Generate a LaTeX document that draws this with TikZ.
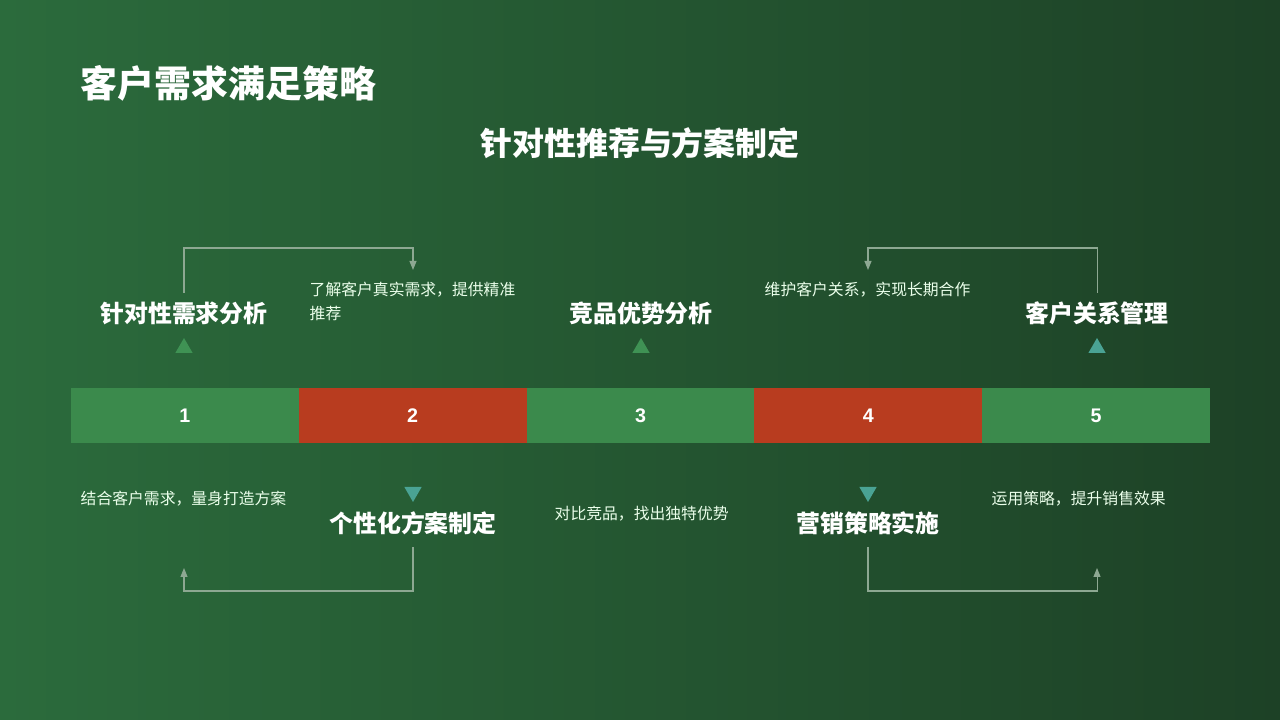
\documentclass[tikz,border=0pt]{standalone}
\usepackage{fontspec}
\setmainfont{Liberation Sans}
\newfontfamily\cjk{Noto Sans CJK SC}
\usetikzlibrary{arrows.meta,shapes.geometric}
\definecolor{bgLeft}{HTML}{2B6B3C}
\definecolor{bgRight}{HTML}{1D4126}
\definecolor{barGreen}{HTML}{3B8A4C}
\definecolor{barRed}{HTML}{B83C1F}
\definecolor{triGreen}{HTML}{3F9254}
\definecolor{triTeal}{HTML}{4AA394}
\definecolor{linkGrey}{HTML}{8DA892}
\tikzset{
	seg/.style={minimum width=2.28cm, minimum height=0.55cm, inner sep=0, text=white, font=\bfseries\fontsize{5.6}{6}\selectfont},
	steptitle/.style={text=white, inner sep=0, font=\cjk\bfseries\fontsize{6.8}{8}\selectfont},
	desc/.style={text=white!92!green, inner sep=0, anchor=west, align=left, font=\cjk\fontsize{4.5}{6.8}\selectfont},
	tri/.style={regular polygon, regular polygon sides=3, minimum size=0.2cm, inner sep=0},
	link/.style={draw=linkGrey, line width=0.3pt, -{Triangle[length=0.9mm,width=0.7mm]}}
}

\begin{document}
\begin{tikzpicture}
	%background
	\shade[left color=bgLeft, right color=bgRight] (0,0) rectangle (12.8,7.2);

	%titles
	\node[anchor=west, text=white, inner sep=0, font=\cjk\bfseries\fontsize{10.5}{12}\selectfont] (title) at (0.80,6.37) {客户需求满足策略};
	\node[text=white, inner sep=0, font=\cjk\bfseries\fontsize{9.1}{11}\selectfont] (subtitle) at (6.40,5.77) {针对性推荐与方案制定};

	%bar
	\foreach \i/\c in {1/barGreen, 2/barRed, 3/barGreen, 4/barRed, 5/barGreen}
		\node[seg, fill=\c] (b\i) at ({0.71+2.278*(\i-0.5)},3.04) {\i};

	%step titles
	\node[steptitle] (t1) at (1.84,4.07) {针对性需求分析};
	\node[steptitle] (t2) at (4.13,1.97) {个性化方案制定};
	\node[steptitle] (t3) at (6.41,4.07) {竞品优势分析};
	\node[steptitle] (t4) at (8.68,1.97) {营销策略实施};
	\node[steptitle] (t5) at (10.97,4.07) {客户关系管理};

	%markers
	\node[tri, fill=triGreen] (p1) at (1.84,3.72) {};
	\node[tri, fill=triTeal, shape border rotate=180] (p2) at (4.13,2.28) {};
	\node[tri, fill=triGreen] (p3) at (6.41,3.72) {};
	\node[tri, fill=triTeal, shape border rotate=180] (p4) at (8.68,2.28) {};
	\node[tri, fill=triTeal] (p5) at (10.97,3.72) {};

	%descriptions
	\node[desc] (d1) at (0.80,2.21) {结合客户需求，量身打造方案};
	\node[desc] (d2) at (3.09,4.19) {了解客户真实需求，提供精准\\推荐};
	\node[desc] (d3) at (5.54,2.06) {对比竞品，找出独特优势};
	\node[desc] (d4) at (7.64,4.30) {维护客户关系，实现长期合作};
	\node[desc] (d5) at (9.91,2.21) {运用策略，提升销售效果};

	%connectors
	\coordinate (u1) at (1.84,4.27);
	\coordinate (v2) at (4.13,4.50);
	\coordinate (u2) at (4.13,1.73);
	\coordinate (v1) at (1.84,1.52);
	\coordinate (u5) at (10.97,4.27);
	\coordinate (v4) at (8.68,4.50);
	\coordinate (u4) at (8.68,1.73);
	\coordinate (v5) at (10.97,1.52);
	\draw[link] (u1) -- ++(0,0.45) -| (v2);
	\draw[link] (u2) -- ++(0,-0.44) -| (v1);
	\draw[link] (u5) -- ++(0,0.45) -| (v4);
	\draw[link] (u4) -- ++(0,-0.44) -| (v5);
\end{tikzpicture}
\end{document}
